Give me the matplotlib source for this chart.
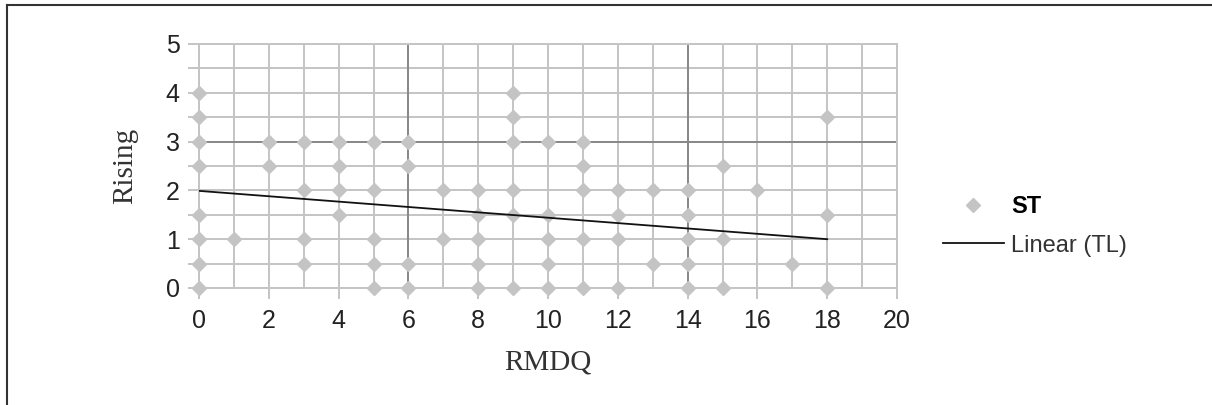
import matplotlib.pyplot as plt
from matplotlib.lines import Line2D

# RMDQ vs Rising scores
rmdq = [0, 0, 0, 0, 0, 0, 0, 0,
        1,
        2, 2,
        3, 3, 3, 3,
        4, 4, 4, 4,
        5, 5, 5, 5, 5,
        6, 6, 6, 6,
        7, 7,
        8, 8, 8, 8, 8,
        9, 9, 9, 9, 9, 9,
        10, 10, 10, 10, 10,
        11, 11, 11, 11, 11,
        12, 12, 12, 12,
        13, 13,
        14, 14, 14, 14, 14,
        15, 15, 15,
        16,
        17,
        18, 18, 18]
rising = [4, 3.5, 3, 2.5, 1.5, 1, 0.5, 0,
          1,
          3, 2.5,
          3, 2, 1, 0.5,
          3, 2.5, 2, 1.5,
          3, 2, 1, 0.5, 0,
          3, 2.5, 0.5, 0,
          2, 1,
          2, 1.5, 1, 0.5, 0,
          4, 3.5, 3, 2, 1.5, 0,
          3, 1.5, 1, 0.5, 0,
          3, 2.5, 2, 1, 0,
          2, 1.5, 1, 0,
          2, 0.5,
          2, 1.5, 1, 0.5, 0,
          2.5, 1, 0,
          2,
          0.5,
          3.5, 1.5, 0]

# Linear trend line end points
trend_x = [0, 18]
trend_y = [1.99, 1.0]

tick_font = ['Liberation Sans Narrow', 'Liberation Sans', 'DejaVu Sans']
label_font = ['Liberation Serif', 'DejaVu Serif']

fig = plt.figure(figsize=(12.12, 4.05), dpi=100)
ax = fig.add_axes([0.1642, 0.2889, 0.5759, 0.6025])

grid_col = '#c4c4c4'
ax.set_xlim(0, 20)
ax.set_ylim(0, 5)
ax.set_xticks(range(0, 21, 2))
ax.set_xticks(range(0, 21), minor=True)
ax.set_yticks(range(0, 6))
ax.set_yticks([v / 2 for v in range(0, 11)], minor=True)
ax.grid(True, which='both', color=grid_col, linewidth=1.4, zorder=0)
ax.set_axisbelow(True)
for s in ax.spines.values():
    s.set_color(grid_col)
    s.set_linewidth(1.4)

# darker reference lines
for xv in (6, 14):
    ax.axvline(xv, color='#888888', linewidth=1.4, zorder=1)
ax.axhline(3, color='#888888', linewidth=1.4, zorder=1)

ax.tick_params(axis='x', which='major', length=8, width=1.4, color=grid_col, pad=7)
ax.tick_params(axis='x', which='minor', length=0)
ax.tick_params(axis='y', which='both', length=8, width=1.4, color=grid_col, pad=6)
for lab in ax.get_xticklabels() + ax.get_yticklabels():
    lab.set_family(tick_font)
    lab.set_fontsize(18)
    lab.set_color('#222222')

ax.plot(rmdq, rising, linestyle='none', marker='D', markersize=7.5,
        color='#c4c4c4', zorder=3, clip_on=False)
ax.plot(trend_x, trend_y, color='#111111', linewidth=1.3, zorder=4)

ax.set_xlabel('RMDQ', family=label_font, fontsize=21, color='#333333', labelpad=12)
ax.set_ylabel('Rising', family=label_font, fontsize=21, color='#333333', labelpad=20)

handles = [Line2D([], [], linestyle='none', marker='D', markersize=7.5, color='#c4c4c4'),
           Line2D([], [], color='#111111', linewidth=1.3)]
leg = fig.legend(handles, ['ST', 'Linear (TL)'], loc='center left',
                 bbox_to_anchor=(0.768, 0.442), frameon=False,
                 handlelength=2.6, handletextpad=0.3, labelspacing=0.7,
                 borderpad=0, prop={'family': tick_font[1:], 'size': 17})
leg.get_texts()[0].set_fontweight('bold')
leg.get_texts()[1].set_color('#333333')

# frame lines of the original figure box
fig.add_artist(Line2D([0.0058, 1], [0.9877, 0.9877], color='#333333', linewidth=1.5))
fig.add_artist(Line2D([0.0058, 0.0058], [0, 0.9877], color='#333333', linewidth=1.5))

plt.savefig('out.png', dpi=100)
